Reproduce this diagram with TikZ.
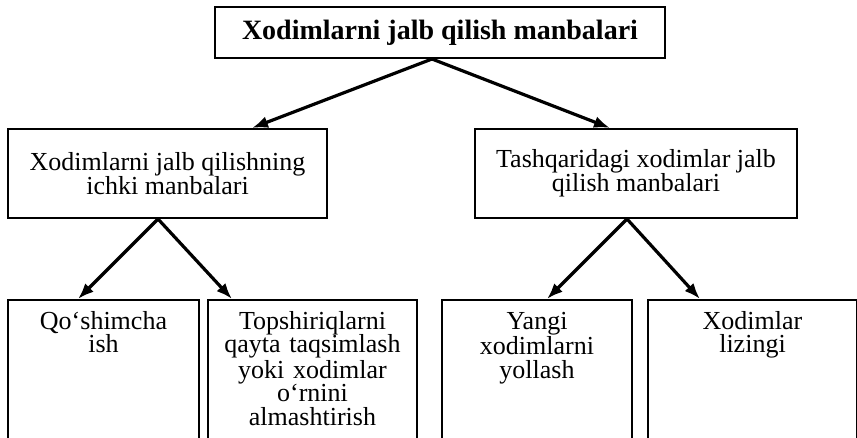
\documentclass[tikz,border=0pt]{standalone}
\usepackage{fontspec}
\setmainfont{Liberation Serif}
\usetikzlibrary{calc,arrows.meta}

\tikzset{
  box/.style={draw=black, line width=1pt, align=center, inner sep=2pt,
    font=\fontsize{13}{12}\selectfont},
  leaf/.style={draw=black, line width=1pt, anchor=north, inner sep=0pt,
    align=center, text width=#1, text height=14.5pt, text depth=80pt,
    font=\fontsize{13}{11.8}\selectfont},
  arr/.style={-{Latex[length=8pt,width=6pt]}, line width=1.6pt}
}

\begin{document}
\begin{tikzpicture}[x=0.5pt,y=-0.5pt]
\useasboundingbox (0,0) rectangle (857,438);

\node[box, minimum width=225pt, minimum height=25.5pt,
  font=\fontsize{14}{14}\selectfont\bfseries] (manba) at (440,32.5)
  {Xodimlarni jalb qilish manbalari};

\node[box, minimum width=159.5pt, minimum height=44.5pt] (ichki) at (167.5,173.5)
  {Xodimlarni jalb qilishning\\ichki manbalari};
\node[box, minimum width=161pt, minimum height=44.5pt] (tashqi) at (636,173.5)
  {Tashqaridagi xodimlar jalb\\qilish manbalari};

\node[leaf=95.5pt] (qosh) at (103.5,299) {Qo‘shimcha\\ish};
\node[leaf=104.5pt] (topsh) at (312.5,299)
  {Topshiriqlarni\\qayta taqsimlash\\yoki xodimlar\\o‘rnini\\almashtirish};
\node[leaf=95pt] (yangi) at (537,299) {Yangi\\xodimlarni\\yollash};
\node[leaf=104.5pt] (lizing) at (752.5,299) {Xodimlar\\lizingi};

\draw[arr] ($(manba.south)+(-8,0)$) -- ($(ichki.north)+(84.5,0)$);
\draw[arr] ($(manba.south)+(-8,0)$) -- ($(tashqi.north)+(-26,0)$);

\draw[arr] ($(ichki.south)+(-9.5,0)$) -- ($(qosh.north)+(-25.5,0)$);
\draw[arr] ($(ichki.south)+(-9.5,0)$) -- ($(topsh.north)+(-80.5,0)$);
\draw[arr] ($(tashqi.south)+(-9,0)$) -- ($(yangi.north)+(10,0)$);
\draw[arr] ($(tashqi.south)+(-9,0)$) -- ($(lizing.north)+(-52.5,0)$);

\end{tikzpicture}
\end{document}
